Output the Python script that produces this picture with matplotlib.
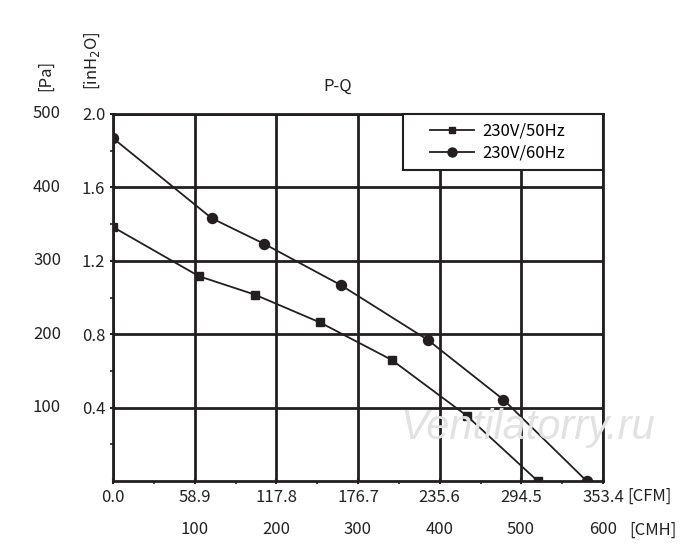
import matplotlib
matplotlib.use("Agg")
import matplotlib.pyplot as plt
import matplotlib.transforms as mtransforms
from matplotlib.patches import Rectangle

plt.rcParams['font.family'] = ['Noto Sans CJK SC', 'DejaVu Sans']

# fan P-Q curves (flow in CFM, pressure in Pa)
cfm_50 = [0, 62.0, 102.2, 149.3, 201.0, 255.1, 306.3]
pa_50 = [346, 279, 254, 216, 165, 89, 0]
cfm_60 = [0, 71.2, 109.1, 164.2, 227.2, 281.5, 341.6]
pa_60 = [467, 358, 323, 267, 192, 111, 0]

cfm_ticks = [0.0, 58.9, 117.8, 176.7, 235.6, 294.5, 353.4]
cmh_labels = ['100', '200', '300', '400', '500', '600']
pa_ticks = [100, 200, 300, 400, 500]
inh2o_labels = ['0.4', '0.8', '1.2', '1.6', '2.0']

ink = '#231f20'
txt = '#222222'

fig = plt.figure(figsize=(7, 5.6), dpi=100)
ax = fig.add_axes([113/700, 1 - 481/560, 490/700, 367/560])

ax.plot(cfm_50, pa_50, color=ink, lw=1.3, marker='s', ms=5.2, label='230V/50Hz')
ax.plot(cfm_60, pa_60, color=ink, lw=1.3, marker='o', ms=7.2, label='230V/60Hz')

ax.set_xlim(0, 353.4)
ax.set_ylim(0, 500)
ax.set_xticks(cfm_ticks)
ax.set_xticklabels(['%.1f' % v for v in cfm_ticks])
ax.set_xticks([(a + b) / 2 for a, b in zip(cfm_ticks[:-1], cfm_ticks[1:])], minor=True)
ax.set_yticks(pa_ticks)
ax.set_yticklabels(inh2o_labels)
ax.set_yticks([50, 150, 250, 350, 450], minor=True)
ax.tick_params(which='major', length=5, width=1.5, color=ink, labelsize=12,
               labelcolor=txt, direction='inout', pad=3)
ax.tick_params(which='minor', length=2.5, width=1.2, color=ink, direction='out')
ax.grid(True, which='major', color=ink, lw=2)
for s in ax.spines.values():
    s.set_linewidth(2)
    s.set_color(ink)

# Pa labels on the far left
ytr = mtransforms.blended_transform_factory(fig.transFigure, ax.transData)
for v in pa_ticks:
    ax.text(47/700, v, str(v), transform=ytr, ha='center', va='center',
            fontsize=12, color=txt)

# CMH labels under the CFM ones
xtr = mtransforms.blended_transform_factory(ax.transData, fig.transFigure)
for lab in cmh_labels:
    ax.text(float(lab) * 0.5886, 1 - 530/560, lab, transform=xtr, ha='center',
            va='center', fontsize=12, color=txt)
fig.text(627/700, 1 - 496/560, '[CFM]', ha='left', va='center', fontsize=12, color=txt)
fig.text(629/700, 1 - 530/560, '[CMH]', ha='left', va='center', fontsize=12, color=txt)

fig.text(46/700, 1 - 75/560, '[Pa]', rotation=90, ha='center', va='center',
         fontsize=12, color=txt)
fig.text(92/700, 1 - 61/560, '[inH$_2$O]', rotation=90, ha='center', va='center',
         fontsize=12, color=txt)
fig.text(338/700, 1 - 86/560, 'P-Q', ha='center', va='center', fontsize=12, color=txt)

# legend box drawn by hand, entries placed inside it
box = Rectangle((403/700, 1 - 170/560), 200/700, 56/560, transform=fig.transFigure,
                facecolor='white', edgecolor=ink, lw=1.5, zorder=5, clip_on=False)
ax.add_patch(box)
leg = ax.legend(loc='upper left', bbox_to_anchor=(427/700, 1 - 119/560),
                bbox_transform=fig.transFigure, borderaxespad=0, frameon=False,
                fontsize=12, handlelength=2.6, handletextpad=0.5, borderpad=0.2,
                labelspacing=0.3, markerscale=0.9)
leg.set_zorder(6)

fig.text(528/700, 1 - 428/560, 'Ventilatorry.ru', ha='center', va='center',
         fontsize=30, style='italic', family='Liberation Sans', color='#e2e2e2', zorder=0)

fig.savefig('out.png', dpi=100)
